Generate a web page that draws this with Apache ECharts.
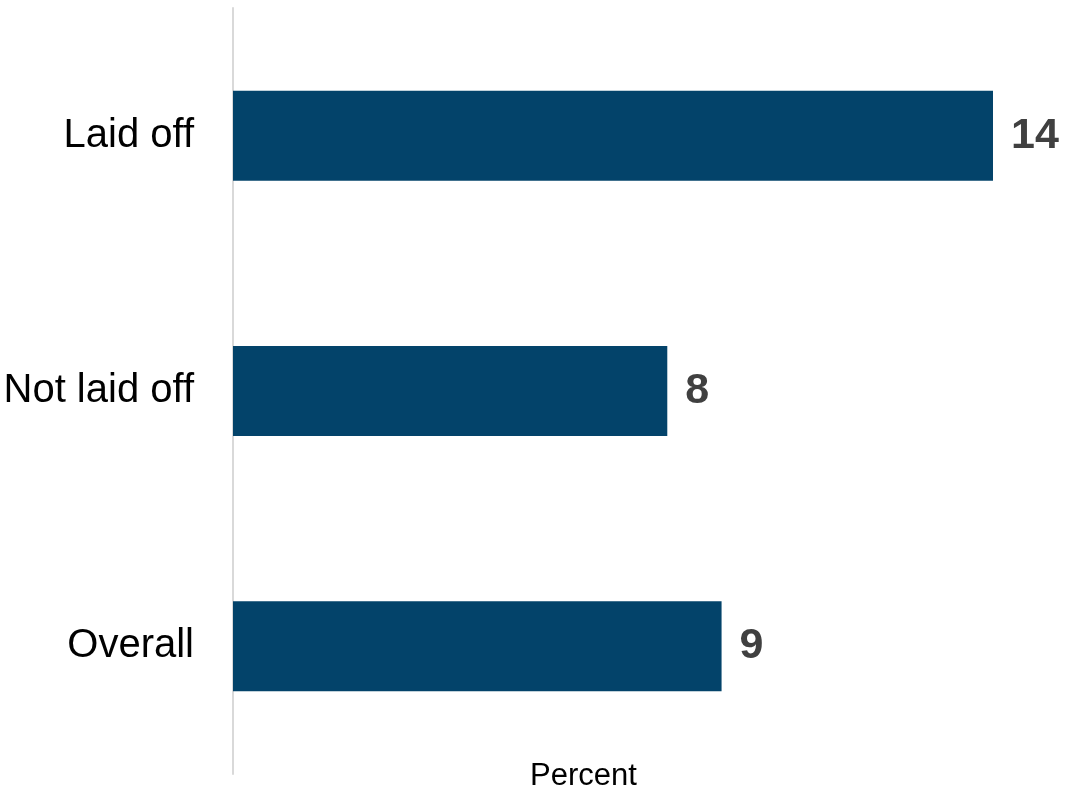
<!DOCTYPE html>
<html>
<head>
<meta charset="utf-8">
<script src="https://cdn.jsdelivr.net/npm/echarts@6/dist/echarts.min.js"></script>
<style>
html,body{margin:0;padding:0;background:#fff;}
#chart{width:1069px;height:789px;}
</style>
</head>
<body>
<div id="chart"></div>
<script>
const categories = ['Laid off', 'Not laid off', 'Overall'];
const values = [14, 8, 9];
const axisTitle = 'Percent';

const chart = echarts.init(document.getElementById('chart'), null, {renderer: 'canvas'});
chart.setOption({
  animation: false,
  backgroundColor: '#ffffff',
  grid: {left: 233, right: 76, top: 8, bottom: 15, containLabel: false, outerBoundsMode: 'none'},
  xAxis: {
    type: 'value', min: 0, max: 14,
    show: false,
    splitLine: {show: false}
  },
  yAxis: {
    type: 'category',
    data: categories,
    inverse: true,
    axisLine: {show: true, lineStyle: {color: '#d9d9d9', width: 2}},
    axisTick: {show: false},
    axisLabel: {
      margin: 39,
      fontFamily: '"Liberation Sans Narrow", "Arial Narrow", "Liberation Sans", sans-serif',
      fontSize: 40,
      color: '#000000'
    }
  },
  series: [{
    type: 'bar',
    data: values,
    barWidth: 90,
    itemStyle: {color: '#03436A'},
    label: {
      show: true,
      position: 'right',
      distance: 18,
      fontFamily: '"Liberation Sans", Arial, sans-serif',
      fontWeight: 'bold',
      fontSize: 43,
      color: '#404040'
    }
  }],
  graphic: [{
    type: 'text',
    left: 530,
    top: 761,
    style: {
      text: axisTitle,
      fontFamily: '"Liberation Sans", Arial, sans-serif',
      fontSize: 31,
      fill: '#000000'
    }
  }]
});
</script>
</body>
</html>
